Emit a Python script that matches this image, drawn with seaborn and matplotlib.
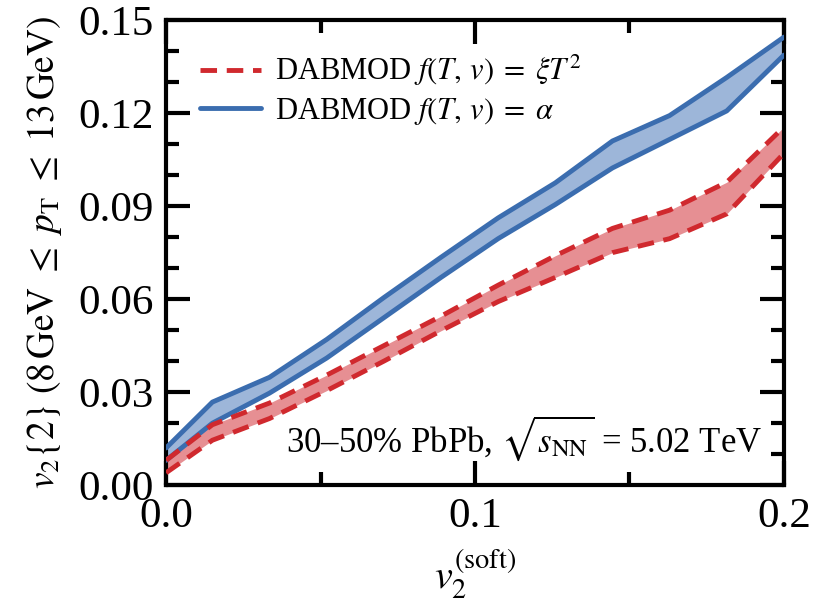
import numpy as np
import pandas as pd
import matplotlib
matplotlib.use("Agg")
import matplotlib.pyplot as plt
from matplotlib.lines import Line2D
from matplotlib.ticker import MultipleLocator
import seaborn as sns

# ---- data ----
v2_soft = [0.0, 0.015, 0.0335, 0.052, 0.0705, 0.089, 0.1075, 0.126, 0.1445, 0.163, 0.1815, 0.2]
red_upper = [0.008, 0.0195, 0.0265, 0.0355, 0.045, 0.0545, 0.0645, 0.0740, 0.0828, 0.0887, 0.0977, 0.1155]
red_lower = [0.0040, 0.0145, 0.0215, 0.0305, 0.0400, 0.0498, 0.0592, 0.0670, 0.0750, 0.0795, 0.0875, 0.1070]
blue_upper = [0.012, 0.0268, 0.0348, 0.0470, 0.0605, 0.0735, 0.0862, 0.0975, 0.1110, 0.1192, 0.1315, 0.1445]
blue_lower = [0.008, 0.0200, 0.0297, 0.0410, 0.0540, 0.0670, 0.0795, 0.0905, 0.1023, 0.1115, 0.1207, 0.1387]

label_red = r"DABMOD $f(T,\,v)\;=\;\xi T^2$"
label_blue = r"DABMOD $f(T,\,v)\;=\;\alpha$"
annot = r"30–50% PbPb, $\sqrt{s_{\mathrm{NN}}}$ = 5.02 TeV"
xlabel = r"$v_2^{(\mathrm{soft})}$"
ylabel = r"$v_2\{2\}\ (8\,\mathrm{GeV}\ \leq\ p_{\mathrm{T}}\ \leq\ 13\,\mathrm{GeV})$"
xticks = [0.0, 0.1, 0.2]
yticks = [0.00, 0.03, 0.06, 0.09, 0.12, 0.15]

sns.set_style("ticks")
plt.rcParams["font.family"] = ["Liberation Serif", "DejaVu Serif"]
plt.rcParams["mathtext.fontset"] = "stix"
for k in ["text.color", "axes.labelcolor", "axes.edgecolor", "xtick.color", "ytick.color"]:
    plt.rcParams[k] = "black"

RED = "#d0292e"
RED_FILL = "#e68f93"
BLUE = "#3b6daf"
BLUE_FILL = "#9db6d9"

df = pd.DataFrame({
    "x": v2_soft,
    "red_upper": red_upper, "red_lower": red_lower,
    "blue_upper": blue_upper, "blue_lower": blue_lower,
})

fig = plt.figure(figsize=(8.14, 6.08), dpi=100)
ax = fig.add_axes([0.204, 0.202, 0.759, 0.765])

lw = 3.5
ax.fill_between(df["x"], df["blue_lower"], df["blue_upper"], color=BLUE_FILL, lw=0, zorder=1)
ax.fill_between(df["x"], df["red_lower"], df["red_upper"], color=RED_FILL, lw=0, zorder=1)
for col in ["blue_upper", "blue_lower"]:
    sns.lineplot(data=df, x="x", y=col, ax=ax, color=BLUE, lw=lw, zorder=3)
for col in ["red_upper", "red_lower"]:
    sns.lineplot(data=df, x="x", y=col, ax=ax, color=RED, lw=lw, zorder=4)
for line in ax.get_lines()[2:4]:
    line.set_dashes([3.4, 2.0])

ax.set_xlim(0, 0.2)
ax.set_ylim(0, 0.15)
ax.set_xticks(xticks)
ax.set_xticklabels(["0.0", "0.1", "0.2"])
ax.set_yticks(yticks)
ax.set_yticklabels([f"{t:.2f}" for t in yticks])
ax.xaxis.set_minor_locator(MultipleLocator(0.05))
ax.yaxis.set_minor_locator(MultipleLocator(0.01))
ax.tick_params(which="both", direction="in", top=True, right=True, width=3.0,
               labelsize=31, pad=9, colors="black")
ax.tick_params(which="major", length=17)
ax.tick_params(which="minor", length=9.5)
for s in ax.spines.values():
    s.set_linewidth(3.0)
    s.set_color("black")
    s.set_visible(True)

ax.set_xlabel(xlabel, fontsize=29, labelpad=8)
ax.set_ylabel(ylabel, fontsize=27, labelpad=10)

handles = [Line2D([], [], color=RED, lw=lw, dashes=[3.4, 2.0]),
           Line2D([], [], color=BLUE, lw=lw)]
leg = ax.legend(handles, [label_red, label_blue], loc="upper left",
                bbox_to_anchor=(0.035, 0.955), frameon=False, fontsize=22,
                handlelength=2.0, handletextpad=0.45, labelspacing=0.25,
                borderaxespad=0.0)

ax.text(0.965, 0.1, annot, transform=ax.transAxes, ha="right", va="center",
        fontsize=25)

fig.savefig("out.png", dpi=100)
